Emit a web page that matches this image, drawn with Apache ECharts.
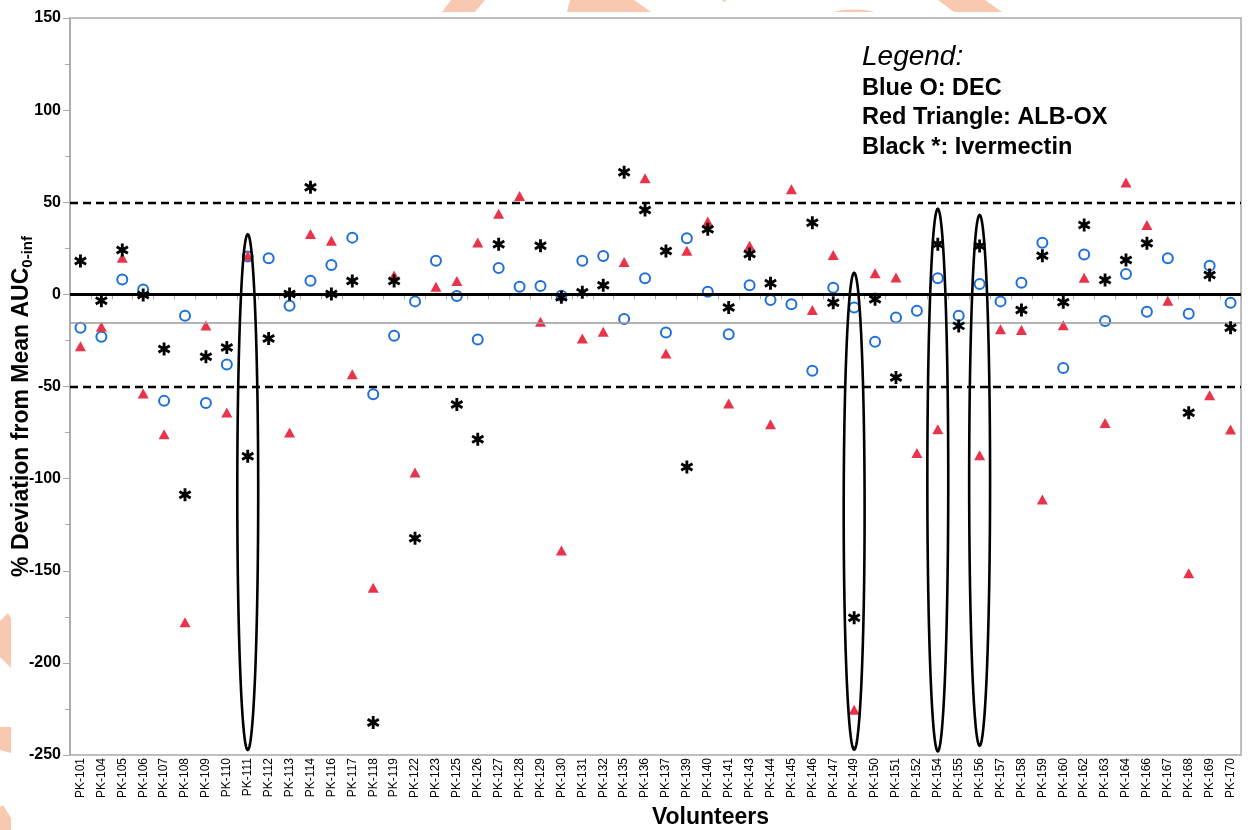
<!DOCTYPE html>
<html>
<head>
<meta charset="utf-8">
<script src="https://cdn.jsdelivr.net/npm/echarts@6/dist/echarts.min.js"></script>
<style>
html,body{margin:0;padding:0;background:#fff;}
#chart{width:1248px;height:830px;}
</style>
</head>
<body>
<div id="chart"></div>
<script>
// ---------------- data ----------------
const categories = ['PK-101','PK-104','PK-105','PK-106','PK-107','PK-108','PK-109','PK-110','PK-111','PK-112','PK-113','PK-114','PK-116','PK-117','PK-118','PK-119','PK-122','PK-123','PK-125','PK-126','PK-127','PK-128','PK-129','PK-130','PK-131','PK-132','PK-135','PK-136','PK-137','PK-139','PK-140','PK-141','PK-143','PK-144','PK-145','PK-146','PK-147','PK-149','PK-150','PK-151','PK-152','PK-154','PK-155','PK-156','PK-157','PK-158','PK-159','PK-160','PK-162','PK-163','PK-164','PK-166','PK-167','PK-168','PK-169','PK-170'];

// Blue O: DEC
const decValues = [-18.1,-23.0,8.1,2.7,-57.8,-11.6,-58.9,-38.0,20.5,19.6,-6.2,7.4,15.9,30.8,-54.2,-22.5,-3.8,18.3,-0.9,-24.5,14.3,4.1,4.5,-0.7,18.3,20.8,-13.4,8.7,-20.7,30.4,1.4,-21.7,4.9,-3.1,-5.4,-41.5,3.6,-7.1,-25.7,-12.5,-8.9,8.7,-11.6,5.6,-3.8,6.3,28.0,-39.9,21.7,-14.5,11.0,-9.4,19.6,-10.5,15.6,-4.6];

// Red Triangle: ALB-OX
const alboxValues = [-28.1,-17.6,19.9,-53.8,-75.9,-177.9,-16.9,-64.1,21.0,null,-75.0,32.8,29.1,-43.3,-159.2,10.3,-96.7,4.1,7.2,28.2,43.8,53.4,-14.9,-139.0,-23.9,-20.3,17.6,63.0,-32.1,23.7,39.5,-59.2,26.4,-70.5,57.1,-8.5,21.4,-225.4,11.4,9.2,-86.1,-73.2,null,-87.3,-18.9,-19.4,-111.3,-16.7,9.0,-69.8,60.7,37.7,-3.5,-151.3,-54.7,-73.4];

// Black *: Ivermectin
const ivermectinValues = [18.1,-3.5,24.1,-0.4,-29.7,-108.7,-33.9,-28.8,-87.9,-23.9,0.2,58.2,0.2,7.2,-232.3,7.2,-132.3,null,-59.8,-78.6,27.2,null,26.4,-1.5,1.1,4.9,66.3,45.8,23.5,-93.7,35.3,-7.1,21.9,6.0,null,38.9,-4.6,-175.5,-2.7,-45.1,null,27.2,-17.1,26.3,null,-8.5,21.0,-4.3,37.7,7.8,18.6,27.7,null,-64.3,10.5,-18.1];

// y axis
const yMin = -250, yMax = 150, yInterval = 50;

// reference lines
const limitLines = [50, -50];
const zeroLine = 0;
const meanLine = -15.5;

// highlighted volunteers (ellipses)
const ellipseCats = ['PK-111','PK-149','PK-154','PK-156'];
const ellipseTop = [32.6, 11.7, 46.4, 43.1];
const ellipseBottom = [-247.3, -247.1, -248.0, -244.9];

// legend text
const legendTitle = 'Legend:';
const legendLines = ['Blue O: DEC', 'Red Triangle: ALB-OX', 'Black *: Ivermectin'];

// ---------------- styling ----------------
const FONT = "'Liberation Sans', Arial, Helvetica, sans-serif";
const BLUE = '#1e6fdc';
const RED = '#e8334b';
const AXIS_GRAY = '#a9a9a9';

function asteriskPath() {
  const w = 0.22;
  const parts = [0, 60, -60].map(a => {
    const r = a * Math.PI / 180, c = Math.cos(r), s = Math.sin(r);
    const pts = [[-w,-1],[w,-1],[w,1],[-w,1]].map(([x,y]) => [x*c - y*s, x*s + y*c]);
    return 'M' + pts.map(p => p[0].toFixed(3) + ' ' + p[1].toFixed(3)).join(' L') + ' Z';
  });
  return 'path://' + parts.join(' ');
}

const wm = '#f8c8b0';
const watermark = [
  [[451,0],[485,0],[475,12],[442,12]],
  [[570,0],[634,0],[651,12],[567,12]],
  [[722,0],[727,0],[724,2]],
  [[833,12],[843,10],[854,9.4],[865,10],[875,12]],
  [[938,0],[985,0],[1002,12],[954,12]],
  [[0,621],[8,613],[11,618],[11,668],[0,657]],
  [[0,727],[11,727],[11,753],[0,750]],
  [[0,807],[3,805],[11,818],[11,830],[0,830]]
].map(pts => ({type:'polygon', silent:true, z:-5, shape:{points:pts}, style:{fill:wm}}));

const chart = echarts.init(document.getElementById('chart'), null, {renderer:'canvas'});

const option = {
  backgroundColor: '#fff',
  animation: false,
  textStyle: {fontFamily: FONT},
  grid: {left: 70, right: 7, top: 18, bottom: 75, containLabel: false, outerBoundsMode: 'none', show: true, borderColor: AXIS_GRAY, borderWidth: 1.5, backgroundColor: 'transparent'},
  xAxis: {
    type: 'category',
    data: categories,
    boundaryGap: true,
    axisLine: {show: true, lineStyle: {color: AXIS_GRAY, width: 1.5}},
    axisTick: {show: true, length: 5, lineStyle: {color: AXIS_GRAY}},
    axisLabel: {rotate: 90, interval: 0, fontSize: 12, color: '#000', margin: 3, fontFamily: FONT},
    splitLine: {show: false},
    name: 'Volunteers',
    nameLocation: 'middle',
    nameGap: 48,
    nameTextStyle: {fontSize: 23, fontWeight: 'bold', color: '#000', fontFamily: FONT, padding: [0,0,0,110]}
  },
  yAxis: {
    type: 'value',
    min: yMin, max: yMax, interval: yInterval,
    axisLine: {show: true, lineStyle: {color: AXIS_GRAY, width: 1.5}},
    axisTick: {show: true, length: 7, lineStyle: {color: AXIS_GRAY}},
    minorTick: {show: true, splitNumber: 2, length: 5, lineStyle: {color: AXIS_GRAY}},
    axisLabel: {fontSize: 16, fontWeight: 'bold', color: '#000', margin: 9, fontFamily: FONT},
    splitLine: {show: false},
    name: '% Deviation from Mean AUC{sub|0-inf}',
    nameLocation: 'middle',
    nameGap: 35,
    nameMoveOverlap: false,
    nameTextStyle: {
      fontSize: 23, fontWeight: 'bold', color: '#000', fontFamily: FONT, lineHeight: 26,
      padding: [0, 40, 0, 0],
      rich: {sub: {fontSize: 15, fontWeight: 'bold', color: '#000', fontFamily: FONT, verticalAlign: 'bottom', lineHeight: 15}}
    }
  },
  graphic: watermark.concat([
    {type:'text', x: 862, y: 57, z: 10, style: {text: legendTitle, font: 'italic 28px ' + FONT, fill: '#000', verticalAlign: 'middle', align: 'left'}},
    {type:'text', x: 862, y: 88.7, z: 10, style: {text: legendLines[0], font: 'bold 23.5px ' + FONT, fill: '#000', verticalAlign: 'middle', align: 'left'}},
    {type:'text', x: 862, y: 118, z: 10, style: {text: legendLines[1], font: 'bold 23.5px ' + FONT, fill: '#000', verticalAlign: 'middle', align: 'left'}},
    {type:'text', x: 862, y: 147.3, z: 10, style: {text: legendLines[2], font: 'bold 23.5px ' + FONT, fill: '#000', verticalAlign: 'middle', align: 'left'}}
  ]),
  series: [
    {
      name: 'reference', type: 'scatter', data: [], z: 1, silent: true,
      markLine: {
        silent: true, symbol: 'none', label: {show: false}, animation: false,
        data: [
          {yAxis: meanLine, lineStyle: {color: '#9a9a9a', width: 1.5, type: 'solid'}},
          {yAxis: limitLines[0], lineStyle: {color: '#000', width: 2.3, type: [8, 5]}},
          {yAxis: limitLines[1], lineStyle: {color: '#000', width: 2.3, type: [8, 5]}},
          {yAxis: zeroLine, lineStyle: {color: '#000', width: 3, type: 'solid'}}
        ]
      }
    },
    {
      name: 'DEC', type: 'scatter', z: 3,
      data: decValues,
      symbol: 'circle', symbolSize: 10,
      itemStyle: {color: 'rgba(0,0,0,0)', borderColor: BLUE, borderWidth: 2, opacity: 1}
    },
    {
      name: 'ALB-OX', type: 'scatter', z: 4,
      data: alboxValues,
      symbol: 'triangle', symbolSize: [11, 10],
      itemStyle: {color: RED, opacity: 1}
    },
    {
      name: 'Ivermectin', type: 'scatter', z: 5,
      data: ivermectinValues,
      symbol: asteriskPath(), symbolSize: 13, symbolKeepAspect: true,
      itemStyle: {color: '#000', opacity: 1}
    },
    {
      name: 'highlight', type: 'custom', z: 6, silent: true, clip: false,
      data: ellipseCats.map((c, i) => [c, ellipseTop[i], ellipseBottom[i]]),
      encode: {x: 0, y: [1, 2]},
      renderItem: function (params, api) {
        const idx = api.value(0);
        const top = api.coord([idx, api.value(1)]);
        const bot = api.coord([idx, api.value(2)]);
        const hw = api.size([1, 0])[0] * 0.5;
        const cx = top[0], cy = (top[1] + bot[1]) / 2, ry = (bot[1] - top[1]) / 2;
        const pts = [];
        for (let k = 0; k < 120; k++) {
          const t = 2 * Math.PI * k / 120;
          pts.push([cx + hw * Math.cos(t), cy + ry * Math.sin(t)]);
        }
        return {type: 'polygon', shape: {points: pts}, style: {fill: 'none', stroke: '#000', lineWidth: 2.6}};
      }
    }
  ]
};
chart.setOption(option);
</script>
</body>
</html>
